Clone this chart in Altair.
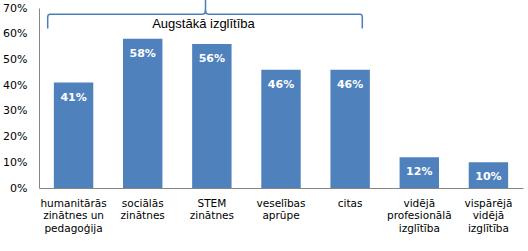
import altair as alt
import pandas as pd

categories = [
    "humanitārās\nzinātnes un\npedagoģija",
    "sociālās\nzinātnes",
    "STEM\nzinātnes",
    "veselības\naprūpe",
    "citas",
    "vidējā\nprofesionālā\nizglītība",
    "vispārējā\nvidējā\nizglītība",
]
values = [0.41, 0.58, 0.56, 0.46, 0.46, 0.12, 0.10]
y_ticks = [0, 0.1, 0.2, 0.3, 0.4, 0.5, 0.6, 0.7]
group_label = "Augstākā izglītība"

# brace annotation shape (pixel coords inside plot area)
brace_x = [8.7, 8.7, 9.2, 10.5, 163.5, 165.8, 166.5, 166.5, 166.5, 167.2, 169.5, 321.5, 322.8, 323.3, 323.3]
brace_y = [20.5, 9.0, 7.0, 6.3, 6.3, 5.5, 2.0, -8.0, 2.0, 5.5, 6.3, 6.3, 7.0, 9.0, 20.5]

W, H = 484, 180
df = pd.DataFrame({"cat": categories, "val": values,
                   "lbl": [f"{round(v*100)}%" for v in values]})
brace_df = pd.DataFrame({"bx": brace_x, "by": brace_y, "o": list(range(len(brace_x)))})
txt_df = pd.DataFrame({"tx": [164.5], "ty": [15.8], "t": [group_label]})

xenc = alt.X("cat:N", sort=categories, title=None,
             scale=alt.Scale(paddingInner=0.43, paddingOuter=0.215),
             axis=alt.Axis(labelAngle=0, ticks=False, domainColor="#868686",
                           labelExpr="split(datum.label, '\\n')",
                           labelFont="DejaVu Sans", labelFontSize=10.5,
                           labelColor="#000000", labelPadding=10,
                           labelLineHeight=12.5, labelBaseline="top"))
yenc = alt.Y("val:Q", title=None,
             scale=alt.Scale(domain=[0, 0.7], nice=False),
             axis=alt.Axis(values=y_ticks, format=".0%", grid=False, ticks=False,
                           domainColor="#868686", labelFont="DejaVu Sans",
                           labelFontSize=11, labelColor="#000000", labelPadding=12))

base = alt.Chart(df).encode(x=xenc, y=yenc)
bars = base.mark_bar(color="#4F81BD")
labels = base.mark_text(color="white", fontWeight="bold", font="DejaVu Sans",
                        fontSize=11, baseline="middle", dy=15).encode(text="lbl:N")
main = alt.layer(bars, labels)

brace = alt.Chart(brace_df).mark_line(color="#4A7EBB", strokeWidth=1.5, clip=False).encode(
    x=alt.X("bx:Q", scale=None, axis=None),
    y=alt.Y("by:Q", scale=None, axis=None),
    order="o:Q")
btext = alt.Chart(txt_df).mark_text(font="Liberation Sans", fontSize=13, color="black",
                                    baseline="middle", align="center").encode(
    x=alt.X("tx:Q", scale=None, axis=None),
    y=alt.Y("ty:Q", scale=None, axis=None),
    text="t:N")
annot = alt.layer(brace, btext)

chart = alt.layer(main, annot).resolve_scale(
    x="independent", y="independent"
).properties(
    width=W, height=H,
    autosize=alt.AutoSizeParams(type="none"),
    padding={"left": 39, "top": 8, "right": 5, "bottom": 63},
    background="white",
).configure_view(stroke=None)

chart.save("out.html", embed_options={"renderer": "svg", "actions": False})
